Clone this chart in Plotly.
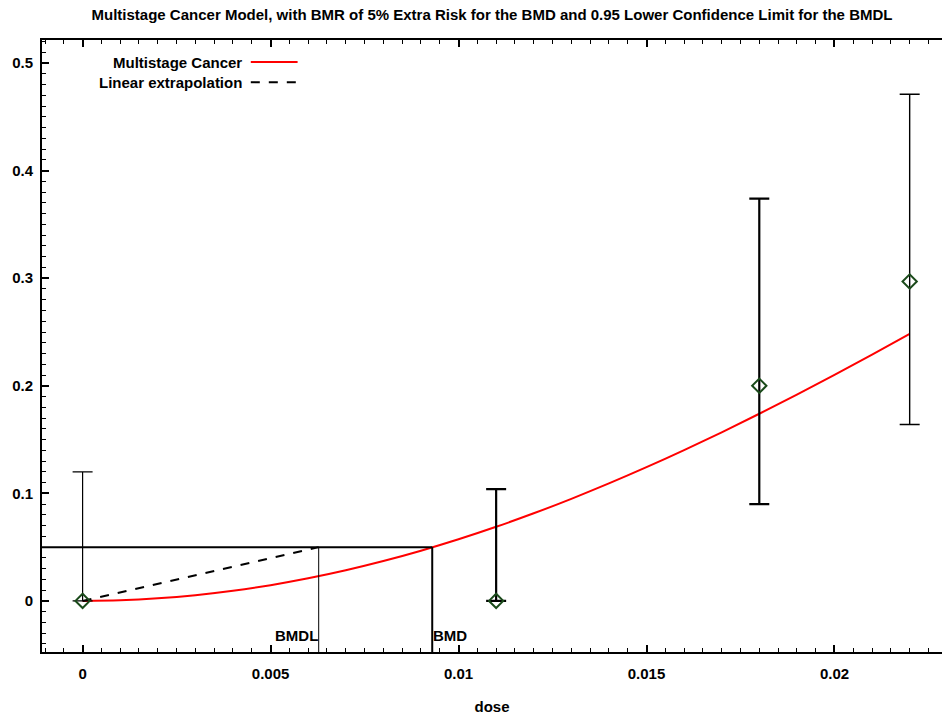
import plotly.graph_objects as go

# Observed dose groups: fraction responding and confidence limits
dose = [0.0, 0.011, 0.018, 0.022]
response = [0.0, 0.0, 0.2, 0.297]
ci_upper = [0.12, 0.104, 0.374, 0.471]
ci_lower = [0.0, 0.0, 0.090, 0.164]
bar_width = [1.2, 2.2, 2.2, 1.4]

# Fitted multistage cancer curve
curve_dose = [0.000, 0.001, 0.002, 0.003, 0.004, 0.005, 0.006, 0.007, 0.008,
              0.009, 0.010, 0.011, 0.012, 0.013, 0.014, 0.015, 0.016, 0.017,
              0.018, 0.019, 0.020, 0.021, 0.022]
curve_risk = [0.0, 0.00059, 0.00236, 0.00530, 0.00940, 0.01464, 0.02102,
              0.02850, 0.03706, 0.04667, 0.05729, 0.06890, 0.08145, 0.09491,
              0.10922, 0.12432, 0.14019, 0.15677, 0.17400, 0.19181, 0.21024,
              0.22907, 0.24834]

BMR = 0.05
BMD = 0.0093
BMDL = 0.00628

X_RANGE = [-0.00108, 0.02286]
Y_RANGE = [-0.0475, 0.5215]

FONT = "Liberation Sans"


def txt(size=15):
    return dict(family=FONT, size=size, color="#000000", weight="bold")


fig = go.Figure()

# Model curve
fig.add_trace(go.Scatter(
    x=curve_dose, y=curve_risk, mode="lines", line_shape="spline",
    line=dict(color="#ff0000", width=2), showlegend=False,
))

# Linear extrapolation from origin to BMDL
fig.add_trace(go.Scatter(
    x=[0.0, BMDL], y=[0.0, BMR], mode="lines",
    line=dict(color="#000000", width=2, dash="dash"), showlegend=False,
))

# Error bars, one trace per dose group
for d, r, up, lo, w in zip(dose, response, ci_upper, ci_lower, bar_width):
    fig.add_trace(go.Scatter(
        x=[d], y=[r], mode="markers", marker=dict(size=1, color="rgba(0,0,0,0)"),
        error_y=dict(type="data", symmetric=False, array=[up - r],
                     arrayminus=[r - lo], color="#000000", thickness=w, width=10),
        showlegend=False,
    ))

# Observed means
fig.add_trace(go.Scatter(
    x=dose, y=response, mode="markers",
    marker=dict(symbol="diamond-open", size=11, color="#1a4a1a",
                line=dict(width=2, color="#1a4a1a")),
    showlegend=False,
))

# BMR level and BMD / BMDL markers
fig.add_shape(type="line", xref="x", yref="y", x0=X_RANGE[0], x1=BMD,
              y0=BMR, y1=BMR, line=dict(color="#000000", width=2))
fig.add_shape(type="line", xref="x", yref="y", x0=BMD, x1=BMD,
              y0=BMR, y1=Y_RANGE[0], line=dict(color="#000000", width=2))
fig.add_shape(type="line", xref="x", yref="y", x0=BMDL, x1=BMDL,
              y0=BMR, y1=Y_RANGE[0], line=dict(color="#000000", width=1))
fig.add_annotation(x=BMDL, y=-0.0325, xref="x", yref="y", text="BMDL",
                   showarrow=False, xanchor="right", yanchor="middle", xshift=1,
                   font=txt())
fig.add_annotation(x=BMD, y=-0.0325, xref="x", yref="y", text="BMD",
                   showarrow=False, xanchor="left", yanchor="middle", xshift=-1,
                   font=txt())

# Legend: label text on the left, line sample on the right
legend_items = [("Multistage Cancer", "#ff0000", "solid", 0.964),
                ("Linear extrapolation", "#000000", "dash", 0.931)]
for label, color, dash, ypos in legend_items:
    fig.add_annotation(x=0.224, y=ypos, xref="paper", yref="paper", text=label,
                       showarrow=False, xanchor="right", yanchor="middle",
                       font=txt())
    fig.add_shape(type="line", xref="paper", yref="paper", x0=0.232, x1=0.284,
                  y0=ypos, y1=ypos, line=dict(color=color, width=2, dash=dash))

fig.update_layout(
    width=942, height=715,
    margin=dict(l=42, r=0, t=40, b=63),
    paper_bgcolor="#ffffff", plot_bgcolor="#ffffff",
    font=txt(),
    title=dict(
        text="Multistage Cancer Model, with BMR of 5% Extra Risk for the BMD and 0.95 Lower Confidence Limit for the BMDL",
        x=0.5, xref="paper", xanchor="center", y=0.979, yanchor="middle",
        font=txt(),
    ),
    showlegend=False,
)

fig.update_xaxes(
    range=X_RANGE, showgrid=False, zeroline=False,
    showline=True, linecolor="#000000", linewidth=2, mirror="ticks",
    ticks="inside", ticklen=7, tickwidth=1.5, tickcolor="#000000",
    tickvals=[0, 0.005, 0.01, 0.015, 0.02],
    ticktext=["0", "0.005", "0.01", "0.015", "0.02"],
    tickfont=txt(), ticklabelstandoff=7,
    minor=dict(dtick=0.0005, tick0=0, ticks="inside", ticklen=4,
               tickcolor="#000000", tickwidth=1, showgrid=False),
    title=dict(text="dose", standoff=20, font=txt()),
)
fig.update_yaxes(
    range=Y_RANGE, showgrid=False, zeroline=False,
    showline=True, linecolor="#000000", linewidth=2, mirror=False,
    ticks="inside", ticklen=7, tickwidth=1.5, tickcolor="#000000",
    tickvals=[0, 0.1, 0.2, 0.3, 0.4, 0.5],
    ticktext=["0", "0.1", "0.2", "0.3", "0.4", "0.5"],
    tickfont=txt(), ticklabelstandoff=4,
    minor=dict(dtick=0.01, tick0=0, ticks="inside", ticklen=4,
               tickcolor="#000000", tickwidth=1, showgrid=False),
)

fig.write_html("out.html")
